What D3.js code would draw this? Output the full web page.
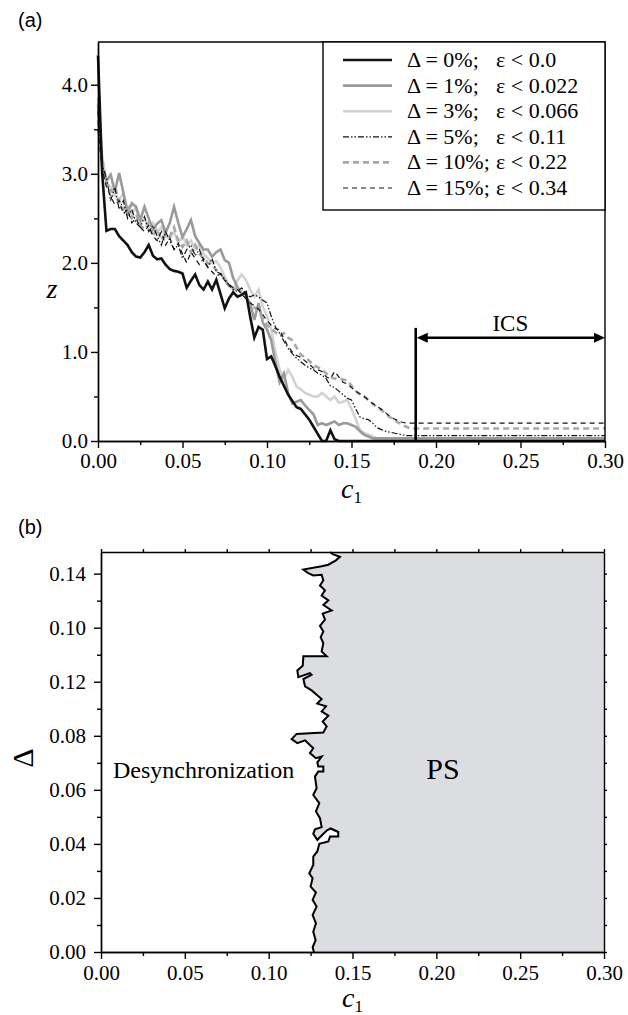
<!DOCTYPE html>
<html>
<head>
<meta charset="utf-8">
<script src="https://cdn.jsdelivr.net/npm/d3@7"></script>
<style>
  body { margin: 0; background: #fff; }
  svg { display: block; }
</style>
</head>
<body>
<div id="chart"></div>
<script>
/*******************************/
/*    Data                     */
/*******************************/
// Panel (a): z versus c1 for six detuning levels
const c1Grid = [
  0, 0.0025, 0.005, 0.0075, 0.01, 0.0125, 0.015, 0.0175, 0.02, 0.0225,
  0.025, 0.0275, 0.03, 0.0325, 0.035, 0.0375, 0.04, 0.0425, 0.045, 0.0475,
  0.05, 0.0525, 0.055, 0.0575, 0.06, 0.0625, 0.065, 0.0675, 0.07, 0.0725,
  0.075, 0.0775, 0.08, 0.0825, 0.085, 0.0875, 0.09, 0.0925, 0.095, 0.0975,
  0.1, 0.1025, 0.105, 0.1075, 0.11, 0.1125, 0.115, 0.1175, 0.12, 0.1225,
  0.125, 0.1275, 0.13, 0.1325, 0.135, 0.1375, 0.14, 0.1425, 0.145, 0.1475,
  0.15, 0.1525, 0.155, 0.1575, 0.16, 0.1625, 0.165, 0.1675, 0.17, 0.1725,
  0.175, 0.1775, 0.18, 0.1825, 0.185, 0.1875, 0.19, 0.1925, 0.195, 0.1975,
  0.2, 0.3
];

const zDelta0 = [
  4.33, 3.00, 2.36, 2.38, 2.38, 2.30, 2.25, 2.20, 2.12, 2.07,
  2.06, 2.12, 2.20, 2.08, 2.04, 2.05, 1.98, 1.93, 1.91, 1.90,
  1.88, 1.72, 1.80, 1.87, 1.75, 1.70, 1.79, 1.70, 1.81, 1.65,
  1.49, 1.60, 1.67, 1.62, 1.64, 1.67, 1.40, 1.16, 1.28, 1.25,
  0.92, 0.95, 0.84, 0.72, 0.62, 0.52, 0.45, 0.38, 0.36, 0.30,
  0.24, 0.16, 0.08, 0.00, 0.00, 0.12, 0.02, 0.00, 0.00, 0.00,
  0, 0, 0, 0, 0, 0, 0, 0, 0, 0,
  0, 0, 0, 0, 0, 0, 0, 0, 0, 0,
  0, 0
];

const zDelta1 = [
  3.78, 3.05, 2.92, 2.99, 2.80, 3.01, 2.79, 2.56, 2.67, 2.63,
  2.48, 2.63, 2.50, 2.37, 2.44, 2.48, 2.34, 2.45, 2.63, 2.45,
  2.29, 2.38, 2.48, 2.30, 2.22, 2.15, 2.15, 2.07, 2.12, 2.15,
  2.03, 2.00, 1.83, 1.73, 1.66, 1.62, 1.55, 1.36, 1.55, 1.33,
  1.25, 1.13, 0.88, 0.66, 0.76, 0.54, 0.42, 0.44, 0.46, 0.40,
  0.35, 0.30, 0.18, 0.20, 0.18, 0.20, 0.22, 0.18, 0.20, 0.20,
  0.18, 0.16, 0.11, 0.07, 0.05, 0.03, 0.03, 0.03, 0.03, 0.03,
  0.03, 0.03, 0.03, 0.03, 0.03, 0.03, 0.03, 0.03, 0.03, 0.03,
  0.03, 0.03
];

const zDelta3 = [
  3.85, 3.20, 2.90, 2.85, 2.75, 2.70, 2.78, 2.60, 2.55, 2.62,
  2.45, 2.50, 2.40, 2.45, 2.35, 2.40, 2.30, 2.28, 2.35, 2.22,
  2.30, 2.20, 2.25, 2.15, 2.20, 2.10, 2.05, 2.00, 2.02, 1.95,
  1.84, 1.75, 1.70, 1.80, 1.87, 1.81, 1.70, 1.62, 1.70, 1.51,
  1.40, 1.25, 0.99, 0.80, 0.69, 0.80, 0.72, 0.61, 0.58, 0.54,
  0.52, 0.50, 0.50, 0.54, 0.50, 0.46, 0.50, 0.43, 0.44, 0.46,
  0.36, 0.25, 0.12, 0.09, 0.07, 0.05, 0.03, 0.03, 0.03, 0.03,
  0.03, 0.03, 0.03, 0.03, 0.03, 0.03, 0.03, 0.03, 0.03, 0.03,
  0.03, 0.03
];

const zDelta5 = [
  3.70, 3.10, 2.95, 2.70, 2.85, 2.60, 2.70, 2.50, 2.60, 2.45,
  2.40, 2.52, 2.35, 2.42, 2.30, 2.20, 2.35, 2.25, 2.15, 2.20,
  2.05, 2.15, 2.20, 2.08, 2.15, 2.02, 1.95, 2.05, 1.90, 1.88,
  1.82, 1.75, 1.70, 1.68, 1.72, 1.65, 1.62, 1.64, 1.62, 1.58,
  1.55, 1.40, 1.28, 1.21, 1.12, 1.04, 0.98, 0.93, 0.89, 0.85,
  0.82, 0.80, 0.76, 0.74, 0.70, 0.62, 0.60, 0.56, 0.52, 0.48,
  0.46, 0.36, 0.27, 0.25, 0.24, 0.20, 0.15, 0.13, 0.11, 0.10,
  0.09, 0.08, 0.07, 0.06, 0.06, 0.06, 0.06, 0.06, 0.06, 0.06,
  0.06, 0.06
];

const zDelta10 = [
  3.60, 3.15, 2.90, 2.80, 2.85, 2.70, 2.60, 2.65, 2.50, 2.55,
  2.42, 2.38, 2.45, 2.30, 2.38, 2.25, 2.32, 2.30, 2.40, 2.25,
  2.18, 2.25, 2.12, 2.20, 2.10, 2.05, 2.00, 1.98, 1.92, 1.88,
  1.80, 1.74, 1.70, 1.72, 1.66, 1.60, 1.55, 1.50, 1.45, 1.38,
  1.30, 1.26, 1.22, 1.18, 1.21, 1.16, 1.13, 1.05, 0.97, 0.94,
  0.90, 0.85, 0.83, 0.80, 0.76, 0.72, 0.70, 0.70, 0.69, 0.68,
  0.62, 0.56, 0.52, 0.50, 0.46, 0.42, 0.38, 0.35, 0.31, 0.27,
  0.24, 0.21, 0.18, 0.16, 0.14, 0.14, 0.14, 0.14, 0.14, 0.14,
  0.14, 0.14
];

const zDelta15 = [
  3.50, 3.05, 2.85, 2.75, 2.65, 2.70, 2.55, 2.60, 2.45, 2.50,
  2.40, 2.35, 2.42, 2.30, 2.25, 2.35, 2.20, 2.28, 2.15, 2.22,
  2.10, 2.00, 2.12, 2.05, 1.98, 2.05, 1.95, 1.90, 1.85, 1.88,
  1.80, 1.76, 1.72, 1.70, 1.65, 1.60, 1.55, 1.52, 1.48, 1.42,
  1.35, 1.30, 1.26, 1.25, 1.15, 1.06, 1.00, 0.96, 0.94, 0.90,
  0.86, 0.82, 0.80, 0.78, 0.72, 0.70, 0.78, 0.72, 0.66, 0.64,
  0.60, 0.56, 0.53, 0.50, 0.46, 0.42, 0.39, 0.36, 0.32, 0.28,
  0.25, 0.23, 0.21, 0.20, 0.20, 0.20, 0.20, 0.20, 0.20, 0.20,
  0.20, 0.20
];

const deltaLabels = ["\u0394 = 0%;", "\u0394 = 1%;", "\u0394 = 3%;", "\u0394 = 5%;", "\u0394 = 10%;", "\u0394 = 15%;"];
const epsLabels = ["\u03b5 < 0.0", "\u03b5 < 0.022", "\u03b5 < 0.066", "\u03b5 < 0.11", "\u03b5 < 0.22", "\u03b5 < 0.34"];

const xTicks = [0, 0.05, 0.10, 0.15, 0.20, 0.25, 0.30];
const xMinorTicks = [0.025, 0.075, 0.125, 0.175, 0.225, 0.275];
const zTicks = [0, 1, 2, 3, 4];
const zMinorTicks = [0.5, 1.5, 2.5, 3.5];

// ICS interval marker: [start c1, end c1] and [top of bar z, arrow z]
const icsC1 = [0.188, 0.30];
const icsZ = [1.27, 1.16];

// Panel (b): PS / desynchronization boundary in (c1, Delta)
const bndC1 = [
  0.1366, 0.1382, 0.1425, 0.1401, 0.1356, 0.1316, 0.1207, 0.1236, 0.1266, 0.1316,
  0.1326, 0.1306, 0.1336, 0.1316, 0.1356, 0.1326, 0.1376, 0.1322, 0.1336, 0.1306,
  0.1326, 0.1310, 0.1326, 0.1316, 0.1346, 0.1207, 0.1203, 0.1171, 0.1177, 0.1246,
  0.1256, 0.1207, 0.1217, 0.1256, 0.1286, 0.1316, 0.1290, 0.1342, 0.1316, 0.1356,
  0.1322, 0.1346, 0.1326, 0.1167, 0.1137, 0.1171, 0.1217, 0.1266, 0.1246, 0.1282,
  0.1316, 0.1290, 0.1296, 0.1326, 0.1326, 0.1296, 0.1276, 0.1286, 0.1266, 0.1302,
  0.1282, 0.1306, 0.1316, 0.1276, 0.1266, 0.1290, 0.1346, 0.1370, 0.1415, 0.1415,
  0.1366, 0.1356, 0.1302, 0.1290, 0.1266, 0.1266, 0.1242, 0.1262, 0.1250, 0.1282,
  0.1262, 0.1286, 0.1262, 0.1282, 0.1266, 0.1280, 0.1262, 0.1270
];
const bndDelta = [
  0.1480, 0.1472, 0.1462, 0.1449, 0.1433, 0.1427, 0.1415, 0.1402, 0.1393, 0.1396,
  0.1375, 0.1356, 0.1338, 0.1319, 0.1301, 0.1284, 0.1264, 0.1252, 0.1230, 0.1207,
  0.1186, 0.1165, 0.1143, 0.1112, 0.1094, 0.1094, 0.1059, 0.1042, 0.1017, 0.1032,
  0.1026, 0.1010, 0.0983, 0.0968, 0.0952, 0.0936, 0.0919, 0.0909, 0.0890, 0.0874,
  0.0853, 0.0835, 0.0812, 0.0807, 0.0788, 0.0773, 0.0783, 0.0754, 0.0736, 0.0717,
  0.0723, 0.0701, 0.0686, 0.0686, 0.0668, 0.0668, 0.0649, 0.0606, 0.0581, 0.0551,
  0.0520, 0.0495, 0.0462, 0.0454, 0.0437, 0.0415, 0.0449, 0.0457, 0.0444, 0.0427,
  0.0427, 0.0409, 0.0400, 0.0372, 0.0353, 0.0322, 0.0291, 0.0273, 0.0242, 0.0220,
  0.0193, 0.0168, 0.0137, 0.0106, 0.0075, 0.0044, 0.0017, 0.0000
];

const deltaTicks = [0, 0.02, 0.04, 0.06, 0.08, 0.10, 0.12, 0.14];
const deltaTickLabels = ["0.00", "0.02", "0.04", "0.06", "0.08", "0.12", "0.10", "0.14"];
const deltaMinorTicks = [0.01, 0.03, 0.05, 0.07, 0.09, 0.11, 0.13];


/*******************************/
/*    Constants                */
/*******************************/
const serif = "'Liberation Serif', 'Times New Roman', serif";
const sans = "'Liberation Sans', Arial, sans-serif";
const width = 628;
const height = 1015;

// one style per series, same order as the data
const seriesStyles = [
  {color: "#111", width: 2.6, dash: null},
  {color: "#9a9a9a", width: 2.6, dash: null},
  {color: "#d2d2d2", width: 2.6, dash: null},
  {color: "#111", width: 1.2, dash: "6,2,1.5,2,1.5,2"},
  {color: "#a8a8a8", width: 2.6, dash: "6,4"},
  {color: "#111", width: 1.2, dash: "5,4"}
];
const allSeries = [zDelta0, zDelta1, zDelta3, zDelta5, zDelta10, zDelta15];

const svg = d3.select("#chart")
  .append("svg")
    .attr("width", width)
    .attr("height", height)
    .attr("viewBox", `0 0 ${width} ${height}`)
    .style("background", "#fff");

// helper to style an axis group
const styleAxis = (g, fontSize) => {
  g.attr("font-family", serif).attr("font-size", fontSize);
  g.selectAll("path, line").attr("stroke", "#000").attr("stroke-width", 1.4);
  g.selectAll("text").attr("fill", "#000");
};

// helper for the italic "c1" axis titles
const addC1Title = (x, y) => {
  svg.append("text")
    .attr("x", x)
    .attr("y", y)
    .attr("text-anchor", "middle")
    .attr("font-family", serif)
    .attr("font-size", 28)
    .attr("font-style", "italic")
    .text("c")
    .append("tspan")
      .attr("dy", 5)
      .attr("font-size", 17)
      .attr("font-style", "normal")
      .text("1");
};


/*******************************/
/*    Panel (a)                */
/*******************************/
const xA = d3.scaleLinear().domain([0, 0.3]).range([98, 605]);
const yA = d3.scaleLinear().domain([0, 4.48]).range([441, 42]);

svg.append("text")
  .text("(a)")
  .attr("x", 18)
  .attr("y", 27)
  .attr("font-family", sans)
  .attr("font-size", 20);

// Curves (light ones first so the black lines stay on top)
const lineA = d3.line()
  .x((d, i) => xA(c1Grid[i]))
  .y(d => yA(d));

const drawOrder = [2, 1, 4, 0, 3, 5];
drawOrder.forEach(k => {
  svg.append("path")
    .datum(allSeries[k])
    .attr("d", lineA)
    .attr("fill", "none")
    .attr("stroke", seriesStyles[k].color)
    .attr("stroke-width", seriesStyles[k].width)
    .attr("stroke-dasharray", seriesStyles[k].dash)
    .attr("stroke-linejoin", "miter");
});

// Axes
const bottomA = svg.append("g")
  .attr("transform", `translate(0, ${yA(0)})`)
  .call(d3.axisBottom(xA).tickValues(xTicks).tickFormat(d3.format(".2f")).tickSize(7).tickSizeOuter(0).tickPadding(5));
styleAxis(bottomA, 21);
const bottomMinorA = svg.append("g")
  .attr("transform", `translate(0, ${yA(0)})`)
  .call(d3.axisBottom(xA).tickValues(xMinorTicks).tickFormat("").tickSize(4).tickSizeOuter(0));
styleAxis(bottomMinorA, 21);

const leftA = svg.append("g")
  .attr("transform", `translate(${xA(0)}, 0)`)
  .call(d3.axisLeft(yA).tickValues(zTicks).tickFormat(d3.format(".1f")).tickSize(7).tickSizeOuter(0).tickPadding(3));
styleAxis(leftA, 21);
const leftMinorA = svg.append("g")
  .attr("transform", `translate(${xA(0)}, 0)`)
  .call(d3.axisLeft(yA).tickValues(zMinorTicks).tickFormat("").tickSize(4).tickSizeOuter(0));
styleAxis(leftMinorA, 21);

// top and right frame
svg.append("path")
  .attr("d", `M${xA(0)},${yA(4.48)}H${xA(0.3)}V${yA(0)}`)
  .attr("fill", "none")
  .attr("stroke", "#000")
  .attr("stroke-width", 1.4);

// Axis titles
addC1Title(xA(0.15), 498);

svg.append("text")
  .attr("x", 52)
  .attr("y", 298)
  .attr("text-anchor", "middle")
  .attr("font-family", serif)
  .attr("font-size", 28)
  .attr("font-style", "italic")
  .text("z");

// ICS marker
const icsG = svg.append("g").attr("stroke", "#000").attr("fill", "#000");
icsG.append("line")
  .attr("x1", xA(icsC1[0])).attr("x2", xA(icsC1[0]))
  .attr("y1", yA(0)).attr("y2", yA(icsZ[0]))
  .attr("stroke-width", 2.6);
icsG.append("line")
  .attr("x1", xA(icsC1[0]) + 8).attr("x2", xA(icsC1[1]) - 8)
  .attr("y1", yA(icsZ[1])).attr("y2", yA(icsZ[1]))
  .attr("stroke-width", 2.6);
const ah = 11, aw = 5;
icsG.append("path")
  .attr("stroke", "none")
  .attr("d", `M${xA(icsC1[0]) + 1},${yA(icsZ[1])}l${ah},${-aw}v${2 * aw}z`);
icsG.append("path")
  .attr("stroke", "none")
  .attr("d", `M${xA(icsC1[1])},${yA(icsZ[1])}l${-ah},${-aw}v${2 * aw}z`);
svg.append("text")
  .attr("x", (xA(icsC1[0]) + xA(icsC1[1])) / 2)
  .attr("y", yA(icsZ[1]) - 7)
  .attr("text-anchor", "middle")
  .attr("font-family", serif)
  .attr("font-size", 23)
  .text("ICS");

// Legend
const legend = svg.append("g");
legend.append("rect")
  .attr("x", 323).attr("y", 42)
  .attr("width", 282).attr("height", 168)
  .attr("fill", "#fff")
  .attr("stroke", "#000")
  .attr("stroke-width", 1.4);
deltaLabels.forEach((lab, i) => {
  const ly = 60 + i * 25.6;
  legend.append("line")
    .attr("x1", 343).attr("x2", 392)
    .attr("y1", ly).attr("y2", ly)
    .attr("stroke", seriesStyles[i].color)
    .attr("stroke-width", seriesStyles[i].width)
    .attr("stroke-dasharray", seriesStyles[i].dash);
  legend.append("text")
    .attr("x", 407).attr("y", ly + 7)
    .attr("font-family", serif).attr("font-size", 22)
    .text(lab);
  legend.append("text")
    .attr("x", 496).attr("y", ly + 7)
    .attr("font-family", serif).attr("font-size", 22)
    .text(epsLabels[i]);
});


/*******************************/
/*    Panel (b)                */
/*******************************/
const xB = d3.scaleLinear().domain([0, 0.3]).range([101, 604]);
const yB = d3.scaleLinear().domain([0, 0.148]).range([952, 552]);

svg.append("text")
  .text("(b)")
  .attr("x", 18)
  .attr("y", 534)
  .attr("font-family", sans)
  .attr("font-size", 20);

// PS region: boundary then close along the right side
const bndPoints = bndC1.map((c, i) => [xB(c), yB(bndDelta[i])]);
const regionPoints = bndPoints.concat([[xB(0.3), yB(0)], [xB(0.3), yB(0.148)]]);
svg.append("path")
  .attr("d", d3.line()(regionPoints) + "Z")
  .attr("fill", "#dcdde0")
  .attr("stroke", "none");
svg.append("path")
  .attr("d", d3.line()(bndPoints))
  .attr("fill", "none")
  .attr("stroke", "#000")
  .attr("stroke-width", 2);

// Axes
const bottomB = svg.append("g")
  .attr("transform", `translate(0, ${yB(0)})`)
  .call(d3.axisBottom(xB).tickValues(xTicks).tickFormat(d3.format(".2f")).tickSize(7).tickSizeOuter(0).tickPadding(6));
styleAxis(bottomB, 21);
const bottomMinorB = svg.append("g")
  .attr("transform", `translate(0, ${yB(0)})`)
  .call(d3.axisBottom(xB).tickValues(xMinorTicks).tickFormat("").tickSize(4).tickSizeOuter(0));
styleAxis(bottomMinorB, 21);

const leftB = svg.append("g")
  .attr("transform", `translate(${xB(0)}, 0)`)
  .call(d3.axisLeft(yB).tickValues(deltaTicks).tickFormat((d, i) => deltaTickLabels[i]).tickSize(7).tickSizeOuter(0).tickPadding(8));
styleAxis(leftB, 21);
const leftMinorB = svg.append("g")
  .attr("transform", `translate(${xB(0)}, 0)`)
  .call(d3.axisLeft(yB).tickValues(deltaMinorTicks).tickFormat("").tickSize(4).tickSizeOuter(0));
styleAxis(leftMinorB, 21);

const topB = svg.append("g")
  .attr("transform", `translate(0, ${yB(0.148)})`)
  .call(d3.axisTop(xB).tickValues(xTicks.concat(xMinorTicks)).tickFormat("").tickSize(3).tickSizeOuter(0));
styleAxis(topB, 21);
const rightB = svg.append("g")
  .attr("transform", `translate(${xB(0.3)}, 0)`)
  .call(d3.axisRight(yB).tickValues(deltaTicks.concat(deltaMinorTicks)).tickFormat("").tickSize(3).tickSizeOuter(0));
styleAxis(rightB, 21);

// Axis titles
addC1Title(xB(0.15), 1007);

svg.append("text")
  .attr("transform", "translate(33, 758) rotate(-90)")
  .attr("text-anchor", "middle")
  .attr("font-family", serif)
  .attr("font-size", 30)
  .text("\u0394");

// Region labels
svg.append("text")
  .attr("x", 113).attr("y", 778)
  .attr("font-family", serif).attr("font-size", 24)
  .text("Desynchronization");
svg.append("text")
  .attr("x", 443).attr("y", 779)
  .attr("text-anchor", "middle")
  .attr("font-family", serif).attr("font-size", 30)
  .text("PS");
</script>
</body>
</html>
